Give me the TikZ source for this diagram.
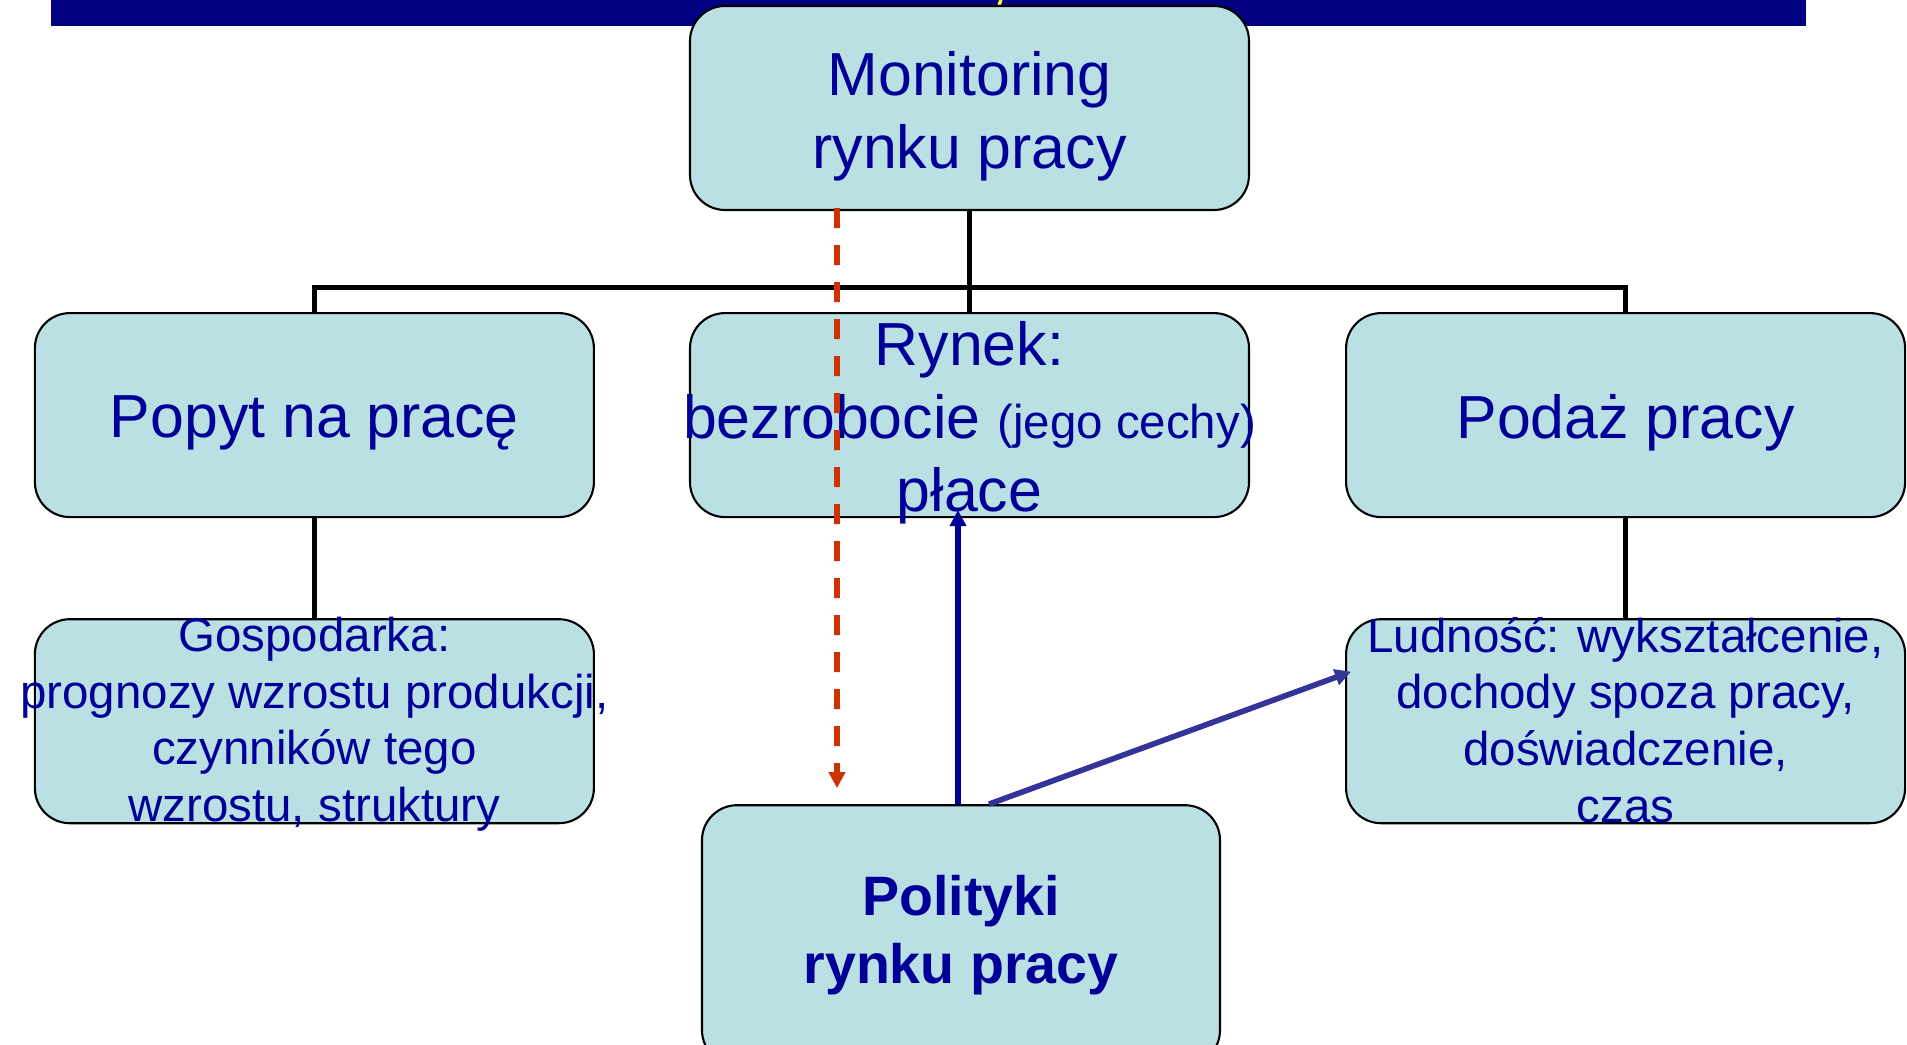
\documentclass[tikz,border=0pt]{standalone}
\usepackage{fontspec}
\setmainfont{Liberation Sans}
\usepackage{xcolor}
\usetikzlibrary{positioning,arrows.meta}

\begin{document}
\begin{tikzpicture}
    \definecolor{mynavy}{RGB}{0,0,128}
    \definecolor{myfill}{RGB}{187,224,227}
    \definecolor{mytext}{RGB}{0,0,153}
    \definecolor{myred}{RGB}{204,51,0}
    \definecolor{myblue}{RGB}{0,0,153}
    \definecolor{mypurple}{RGB}{51,51,153}

    \tikzstyle{box}=[rectangle,rounded corners=0.35cm,draw,line width=0.6pt,fill=myfill,minimum width=5.59cm,minimum height=2.04cm]  % 圆角框
    \tikzstyle{big}=[text=mytext,align=center,yshift=-0.08cm,font=\fontsize{17.3pt}{20.8pt}\selectfont]
    \tikzstyle{small}=[text=mytext,align=center,yshift=-0.03cm,font=\fontsize{13.5pt}{16.2pt}\selectfont]
    \tikzstyle{tree}=[line width=1.4pt]  % 黑色连线
    \tikzstyle{tip}=[-{Triangle[length=0.16cm,width=0.16cm]}]

    \useasboundingbox (0,0) rectangle (19.07,10.45);
    % 顶部横条
    \fill[mynavy] (0.51,10.45) rectangle (18.06,10.19);
    \draw[yellow!80!white,line width=1pt] (10.01,10.45) -- (9.99,10.40);

    % 定义框
    \node[box,label={[big]center:Monitoring\\rynku pracy}](mon) at (9.695,9.37){};
    \node[box,below=1.01cm of mon,label={[big]center:Rynek:\\bezrobocie {\fontsize{13.5pt}{16.2pt}\selectfont(jego cechy)}\\płace}](rynek){};
    \node[box,left=0.94cm of rynek,label={[big]center:Popyt na pracę}](popyt){};
    \node[box,right=0.95cm of rynek,label={[big]center:Podaż pracy}](podaz){};
    \node[box,below=1.0cm of popyt,label={[small]center:Gospodarka:\\prognozy wzrostu produkcji,\\czynników tego\\wzrostu, struktury}](gosp){};
    \node[box,below=1.0cm of podaz,label={[small,yshift=0.04cm]center:Ludność: wykształcenie,\\dochody spoza pracy,\\doświadczenie,\\czas}](ludn){};
    \node[box,minimum width=5.18cm,minimum height=2.6cm,below=2.86cm of rynek,xshift=-0.085cm,
          label={[text=mytext,align=center,font=\fontsize{15.8pt}{19.3pt}\selectfont\bfseries]center:Polityki\\rynku pracy}](pol){};

    % 开始画线
    \draw[tree](mon)--(rynek);
    \draw[tree](popyt.north)--++(0,0.25)-|(podaz.north);
    \draw[tree](popyt)--(gosp);
    \draw[tree](podaz)--(ludn);
    \draw[tip,myred,line width=1.6pt,dash pattern=on 0.2cm off 0.17cm]([xshift=-1.325cm,yshift=0.03cm]mon.south)--([xshift=-1.24cm,yshift=0.16cm]pol.north);
    \draw[tip,myblue,line width=1.6pt]([xshift=-0.03cm]pol.north)--([xshift=-0.115cm,yshift=0.08cm]rynek.south);
    \draw[tip,mypurple,line width=1.6pt]([xshift=0.28cm]pol.north)--([xshift=0.06cm,yshift=0.495cm]ludn.west);
\end{tikzpicture}
\end{document}
